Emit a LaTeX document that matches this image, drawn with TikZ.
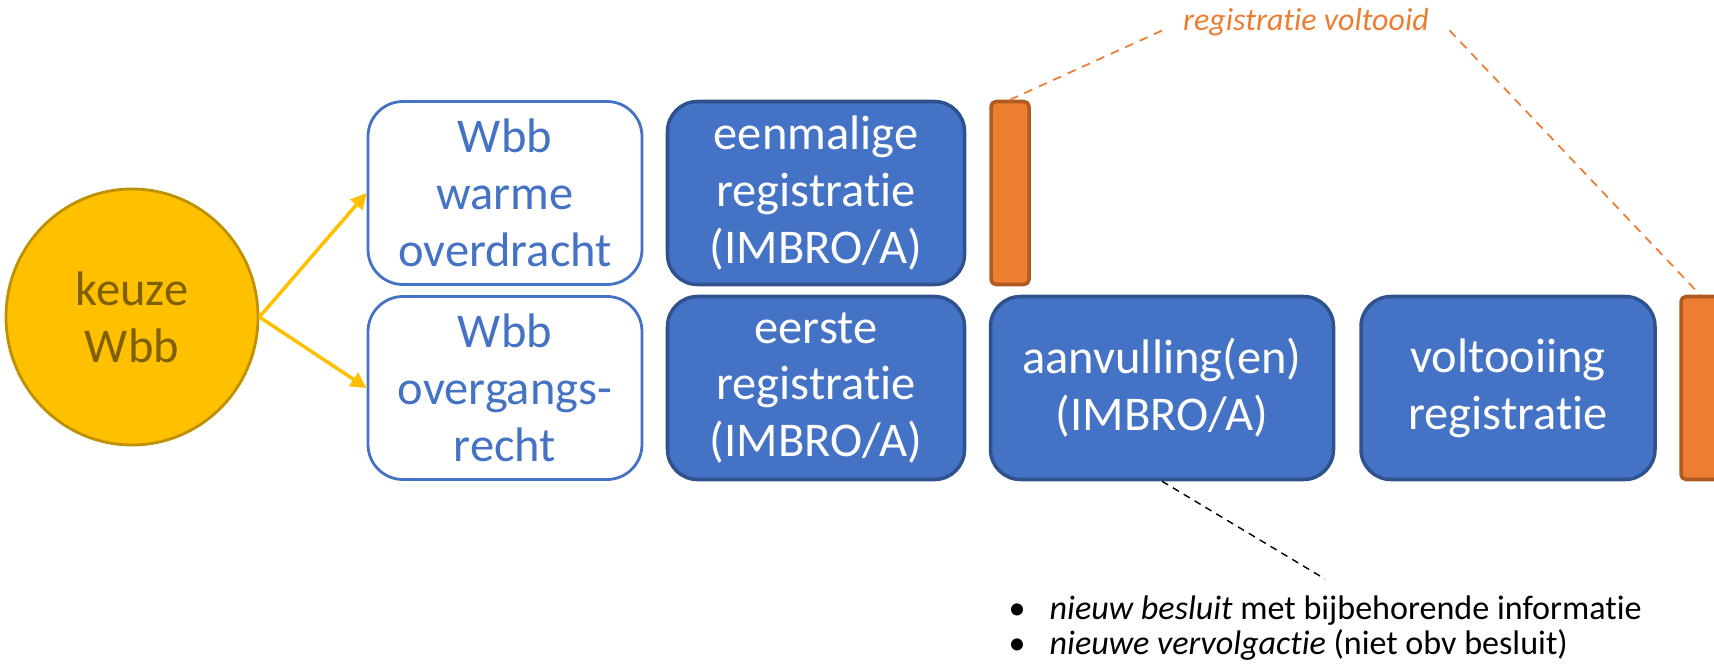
\documentclass[tikz,border=0pt]{standalone}
\usepackage{fontspec}
\setmainfont{Carlito}[RawFeature=-liga, RawFeature=-clig, RawFeature=-rlig, RawFeature=-calt, RawFeature=-dlig]
\usetikzlibrary{shapes.geometric,arrows.meta}

\definecolor{wbbblue}{HTML}{4472C4}
\definecolor{regedge}{HTML}{2F528F}
\definecolor{barorange}{HTML}{ED7D31}
\definecolor{baredge}{HTML}{AE5A21}
\definecolor{choicegold}{HTML}{FFC000}
\definecolor{choiceedge}{HTML}{BF9000}
\definecolor{choicetext}{HTML}{7F6000}

\def\rowA{-1.93}
\def\rowB{-3.88}

\begin{document}
\begin{tikzpicture}[line join=round]
      \tikzstyle{box}=[rectangle, minimum height=1.83cm, align=center, inner sep=0pt,
                       font=\fontsize{13.8}{16.2}\selectfont]
      \tikzstyle{choice}=[ellipse, minimum width=2.52cm, minimum height=2.56cm, inner sep=0pt,
                          draw=choiceedge, fill=choicegold, text=choicetext, line width=0.8pt,
                          align=center, font=\fontsize{13.8}{16.2}\selectfont]
      \tikzstyle{kind box}=[box, rounded corners=0.35cm, minimum width=2.74cm,
                            draw=wbbblue, fill=white, text=wbbblue, line width=0.8pt]
      \tikzstyle{reg box}=[box, rounded corners=0.3cm, draw=regedge, fill=wbbblue, text=white, line width=1pt]
      \tikzstyle{done bar}=[rectangle, rounded corners=0.05cm, minimum width=0.38cm, minimum height=1.83cm,
                            inner sep=0pt, draw=baredge, fill=barorange, line width=1pt]
      \tikzstyle{choice arrow}=[-{Triangle[length=4.5pt,width=4.5pt]}, draw=choicegold, line width=1pt]
      \tikzstyle{done link}=[draw=barorange, dashed, dash pattern=on 2.5pt off 2pt, line width=0.5pt]
      \tikzstyle{add link}=[draw=black, dashed, dash pattern=on 2pt off 1.6pt, line width=0.4pt]
      \tikzstyle{note}=[inner sep=0.2cm, font=\fontsize{9.1}{11}\selectfont\itshape]
      \tikzstyle{list item}=[inner sep=0pt, anchor=base west, font=\fontsize{9.7}{11}\selectfont]

      \clip (0,0) rectangle (17.14,-6.64);

      % Draw the choice node
      \node[choice] (KEUZE) at (1.32,-3.17) {keuze\\Wbb};

      % Draw the two kinds of Wbb
      \node[kind box] (K-WARM) at (5.05,\rowA) {Wbb\\warme\\overdracht};
      \node[kind box] (K-OVER) at (5.05,\rowB) {Wbb\\overgangs-\\recht};

      % Draw the registration steps
      \node[reg box, minimum width=2.97cm] (R-ONCE) at (8.16,\rowA) {eenmalige\\registratie\\(IMBRO/A)};
      \node[reg box, minimum width=2.97cm] (R-FIRST) at (8.16,\rowB) {eerste\\registratie\\(IMBRO/A)};
      \node[reg box, minimum width=3.43cm] (R-ADD) at (11.62,\rowB) {aanvulling(en)\\(IMBRO/A)};
      \node[reg box, minimum width=2.94cm] (R-DONE) at (15.08,\rowB) {voltooiing\\registratie};

      % Draw the completion bars
      \node[done bar] (B-1) at (10.10,\rowA) {};
      \node[done bar] (B-2) at (17.00,\rowB) {};

      % Connect the choice with both kinds of Wbb
      \foreach \dest in {WARM, OVER}
          \draw[choice arrow] (KEUZE.east) -- (K-\dest.west);

      % Annotate the completion
      \node[note, text=barorange] (VOLTOOID) at (13.06,-0.22) {registratie voltooid};
      \draw[done link] (B-1.north) -- (VOLTOOID.base west);
      \draw[done link] (VOLTOOID.base east) -- (B-2.north);

      % Annotate the additions
      \coordinate (ADD-NOTE) at (13.25,-5.79);
      \draw[add link] (R-ADD.south) -- (ADD-NOTE);
      \node[list item] (ADD-1) at (10.08,-6.19)
          {\makebox[0.41cm][l]{\textbullet}\textit{nieuw besluit} met bijbehorende informatie};
      \node[list item] (ADD-2) at (10.08,-6.54)
          {\makebox[0.41cm][l]{\textbullet}\textit{nieuwe vervolgactie} (niet obv besluit)};
\end{tikzpicture}
\end{document}
